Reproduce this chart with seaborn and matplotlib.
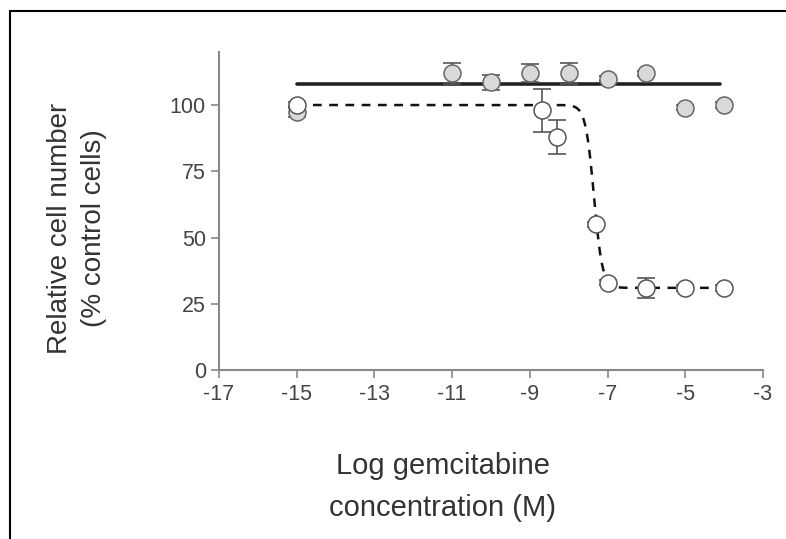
import numpy as np
import matplotlib
matplotlib.use("Agg")
import matplotlib.pyplot as plt
import seaborn as sns
from matplotlib.patches import Rectangle

# Filled grey circles (no effect)
grey_x = [-15, -11, -10, -9, -8, -7, -6, -5, -4]
grey_y = [97.5, 112, 108.5, 112, 112, 110, 112, 99, 100]
grey_err = [2, 4, 3, 3.5, 4, 1, 1, 1, 1]
grey_fit_x = [-15, -4.1]
grey_fit_y = [108, 108]

# Open circles (dose response)
open_x = [-15, -8.7, -8.3, -7.3, -7, -6, -5, -4]
open_y = [100, 98, 88, 55, 33, 31, 31, 31]
open_err = [1, 8, 6.5, 1, 1, 3.8, 1, 1]

# sigmoidal fit
fit_top = 100
fit_bottom = 31
fit_logec50 = -7.35
fit_hill = 4.0
fit_range = (-15, -4)

x_ticks = [-17, -15, -13, -11, -9, -7, -5, -3]
y_ticks = [0, 25, 50, 75, 100]

sns.set_style("ticks")
plt.rcParams['font.family'] = ['Liberation Sans', 'DejaVu Sans']

fig = plt.figure(figsize=(7.86, 5.39), dpi=100)
ax = fig.add_axes([219 / 786, 1 - 370 / 539, (763 - 219) / 786, (370 - 52) / 539])

fit_x = np.linspace(fit_range[0], fit_range[1], 400)
fit_y = fit_bottom + (fit_top - fit_bottom) / (1 + 10 ** ((fit_x - fit_logec50) * fit_hill))

sns.lineplot(x=grey_fit_x, y=grey_fit_y, ax=ax, color="#222222", lw=2.6, zorder=2)
sns.lineplot(x=fit_x, y=fit_y, ax=ax, color="#111111", lw=1.8, zorder=2,
             linestyle=(0, (3.5, 3)))

ax.errorbar(grey_x, grey_y, yerr=grey_err, fmt="none", ecolor="#555555",
            elinewidth=1.2, capsize=6.5, capthick=1.2, zorder=3)
ax.errorbar(open_x, open_y, yerr=open_err, fmt="none", ecolor="#555555",
            elinewidth=1.2, capsize=6.5, capthick=1.2, zorder=3)
sns.scatterplot(x=grey_x, y=grey_y, ax=ax, s=150, color="#d9d9d9",
                edgecolor="#666666", linewidth=1.1, zorder=4)
sns.scatterplot(x=open_x, y=open_y, ax=ax, s=150, color="white",
                edgecolor="#555555", linewidth=1.1, zorder=4)

ax.set_xlim(-17, -3)
ax.set_ylim(0, 120)
ax.set_xticks(x_ticks)
ax.set_yticks(y_ticks)
ax.set_xticklabels([str(t) for t in x_ticks])
ax.tick_params(axis="both", colors="#888888", labelcolor="#444444",
               labelsize=15.5, length=6, width=1.2)
ax.tick_params(axis="x", pad=4)
ax.tick_params(axis="y", pad=3.5)
sns.despine(ax=ax)
for s in ["left", "bottom"]:
    ax.spines[s].set_color("#888888")
    ax.spines[s].set_linewidth(1.5)
ax.set_xlabel("")
ax.set_ylabel("")

fig.text(77 / 786, 1 - 228 / 539, "Relative cell number\n(% control cells)",
         rotation=90, ha="center", va="center", fontsize=20, color="#333333",
         linespacing=1.4)
fig.text(443 / 786, 1 - 487 / 539, "Log gemcitabine\nconcentration (M)",
         ha="center", va="center", fontsize=21, color="#333333",
         linespacing=1.6)

fig.add_artist(Rectangle((10 / 786, -0.1), 1.2, 1.1 - 11 / 539, fill=False,
                         edgecolor="black", lw=1.5, transform=fig.transFigure))

fig.savefig("out.png", dpi=100)
